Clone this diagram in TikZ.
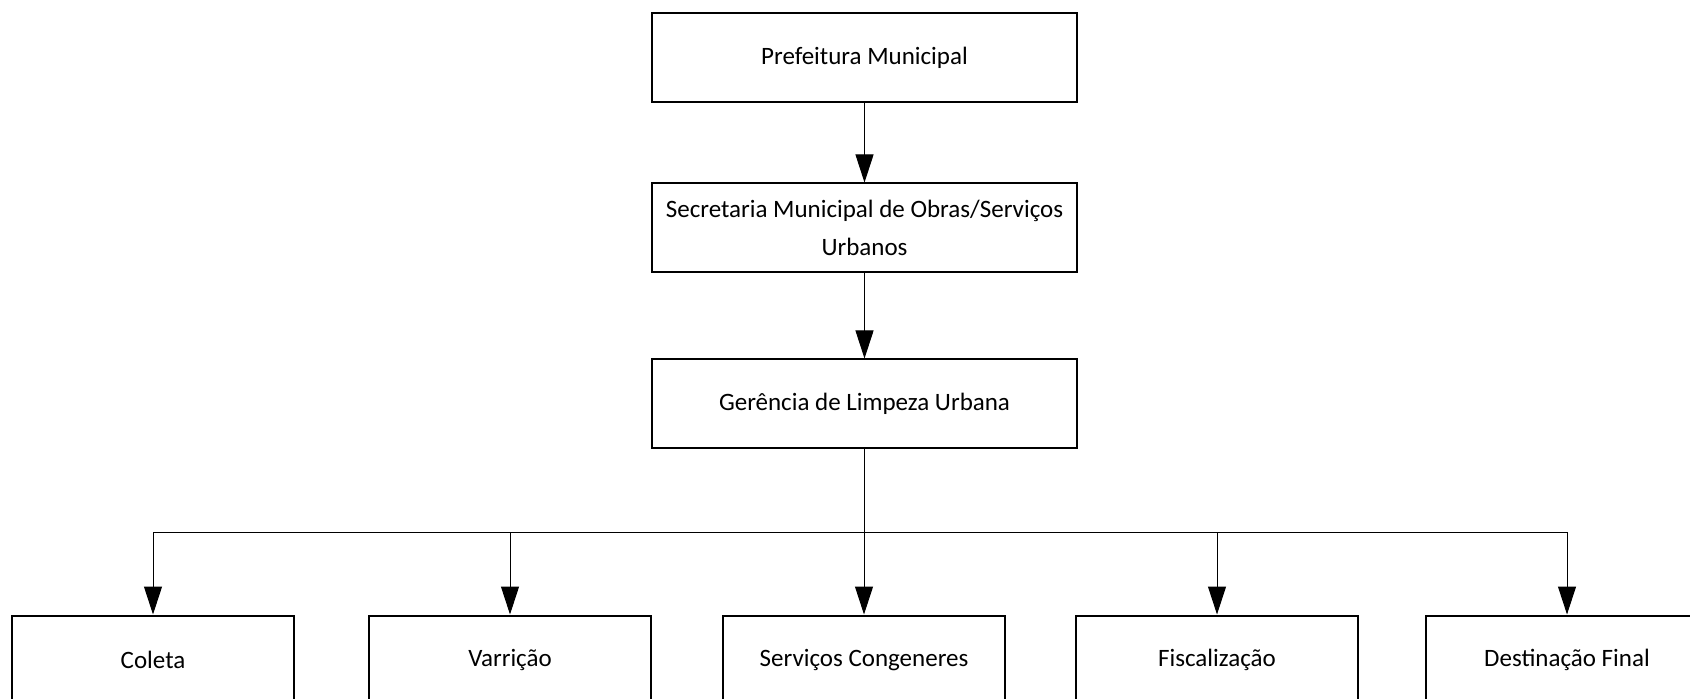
\documentclass[tikz,border=0pt]{standalone}
\usepackage{fontspec}
\setmainfont{Carlito}
\usetikzlibrary{arrows.meta}

\tikzset{
  box/.style={draw, line width=1pt, inner sep=0pt, minimum width=212.5pt,
    minimum height=44.5pt, align=center, font=\fontsize{12.5}{19}\selectfont},
  smallbox/.style={box, minimum width=141pt},
  arr/.style={line width=0.5pt, -{Triangle[length=14pt,width=9pt]}}
}

\begin{document}
\begin{tikzpicture}[x=0.5pt, y=-0.5pt]
  \clip (0,0) rectangle (1690,699);
  \fill[white] (0,0) rectangle (1690,699);

  \node[box] (pref) at (864.5,57.5) {Prefeitura Municipal};
  \node[box] (sec) at (864.5,228) {Secretaria Municipal de Obras/Serviços\\Urbanos};
  \node[box] (ger) at (864.5,404) {Gerência de Limpeza Urbana};

  \node[smallbox] (col) at (153,660) {Coleta};
  \node[smallbox] (var) at (510,660) {Varrição};
  \node[smallbox] (serv) at (864,660) {Serviços Congeneres};
  \node[smallbox] (fisc) at (1217,660) {Fiscalização};
  \node[smallbox] (dest) at (1567,660) {Destinação Final};

  \coordinate (bus) at (864.5,532);

  \draw[arr] (pref) -- (sec);
  \draw[arr] (sec) -- (ger);
  \foreach \n in {col,var,serv,fisc,dest}
    \draw[arr] (ger.south) -- (ger.south |- bus) -| (\n.north);
\end{tikzpicture}
\end{document}
